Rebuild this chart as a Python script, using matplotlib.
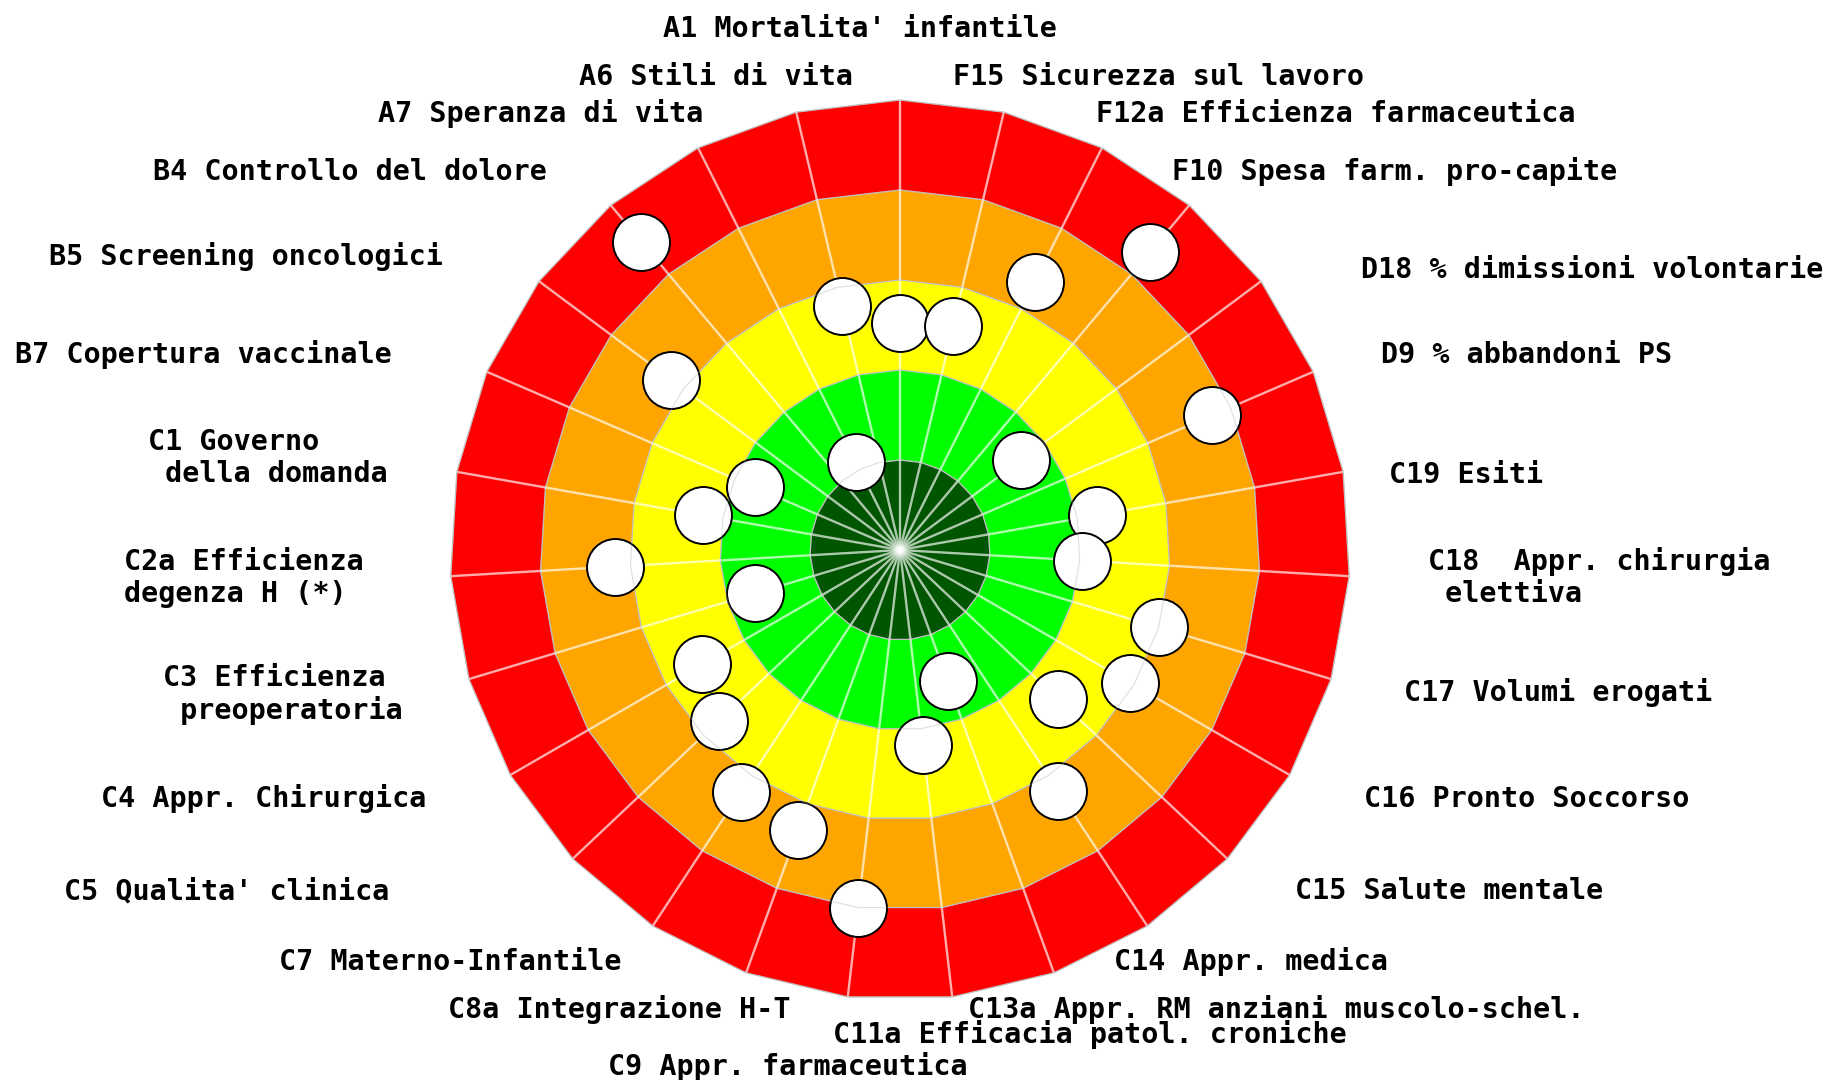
import numpy as np
import matplotlib
matplotlib.use('Agg')
import matplotlib.pyplot as plt

# indicatori, in senso orario a partire dall'alto
labels = ["A1 Mortalita' infantile", "F15 Sicurezza sul lavoro", "F12a Efficienza farmaceutica",
          "F10 Spesa farm. pro-capite", "D18 % dimissioni volontarie", "D9 % abbandoni PS",
          "C19 Esiti", "C18  Appr. chirurgia\n elettiva", "C17 Volumi erogati",
          "C16 Pronto Soccorso", "C15 Salute mentale", "C14 Appr. medica",
          "C13a Appr. RM anziani muscolo-schel.", "C11a Efficacia patol. croniche",
          "C9 Appr. farmaceutica", "C8a Integrazione H-T", "C7 Materno-Infantile",
          "C5 Qualita' clinica", "C4 Appr. Chirurgica", "C3 Efficienza\n preoperatoria",
          "C2a Efficienza\ndegenza H (*)", "C1 Governo\n della domanda", "B7 Copertura vaccinale",
          "B5 Screening oncologici", "B4 Controllo del dolore", "A7 Speranza di vita",
          "A6 Stili di vita"]

# distanza dal centro (0 = ottimo, 5 = pessimo)
values = [2.52, 2.56, 3.33, 4.32, 1.68, 3.78, 2.22, 2.03, 3.00, 2.95, 2.41, 3.20, 1.55, 2.18,
          4.00, 3.31, 3.22, 2.77, 2.54, 1.68, 3.17, 2.22, 1.76, 3.17, 4.47, 1.09, 2.79]

# fasce del bersaglio
band_limits = [1, 2, 3, 4, 5]
band_colors = ['#005500', '#00ff00', '#ffff00', '#ffa500', '#ff0000']

# posizione delle etichette in pixel (sinistra, linea di base dell'ultima riga)
label_xy = [(663, 37), (953, 85), (1096, 122), (1172, 180), (1361, 278), (1381, 363),
            (1389, 483), (1428, 602), (1404, 701), (1364, 807), (1295, 899), (1114, 970),
            (968, 1018), (833, 1043), (608, 1075), (448, 1018), (279, 970), (64, 899),
            (101, 807), (163, 719), (124, 602), (148, 482), (15, 363), (49, 265),
            (153, 180), (378, 122), (579, 85)]

W, H = 1826, 1080
cx, cy, unit = 900, 550, 90.0

n = len(labels)
theta = np.arange(n) * 2 * np.pi / n
sx = np.sin(theta)
sy = np.cos(theta)

fig = plt.figure(figsize=(W / 100, H / 100), dpi=100)
ax = fig.add_axes([0, 0, 1, 1])
ax.set_xlim(-cx / unit, (W - cx) / unit)
ax.set_ylim(-(H - cy) / unit, cy / unit)
ax.axis('off')

# anelli dal piu' esterno al piu' interno
for r, col in reversed(list(zip(band_limits, band_colors))):
    ax.fill(r * sx, r * sy, color=col, ec='#d0d0d0', lw=0.9, zorder=1)

# raggi
rmax = band_limits[-1]
for k in range(n):
    ax.plot([0, rmax * sx[k]], [0, rmax * sy[k]], color='white', alpha=0.68, lw=1.7,
            solid_capstyle='butt', zorder=2)

# pallini
v = np.array(values)
ax.plot(v * sx, v * sy, 'o', ms=41, mfc='white', mec='black', mew=1.4, zorder=4)

# bordi delle fasce leggermente visibili sopra i pallini
for r in band_limits:
    ax.fill(r * sx, r * sy, fill=False, ec='#a0a0a0', lw=0.8, alpha=0.35, zorder=5)

for txt, (px, py) in zip(labels, label_xy):
    fig.text(px / W, 1 - py / H, txt, ha='left', va='baseline', fontsize=20.4,
             fontweight='bold', family='DejaVu Sans Mono', linespacing=1.17)

fig.savefig('out.png', dpi=100, facecolor='white')
